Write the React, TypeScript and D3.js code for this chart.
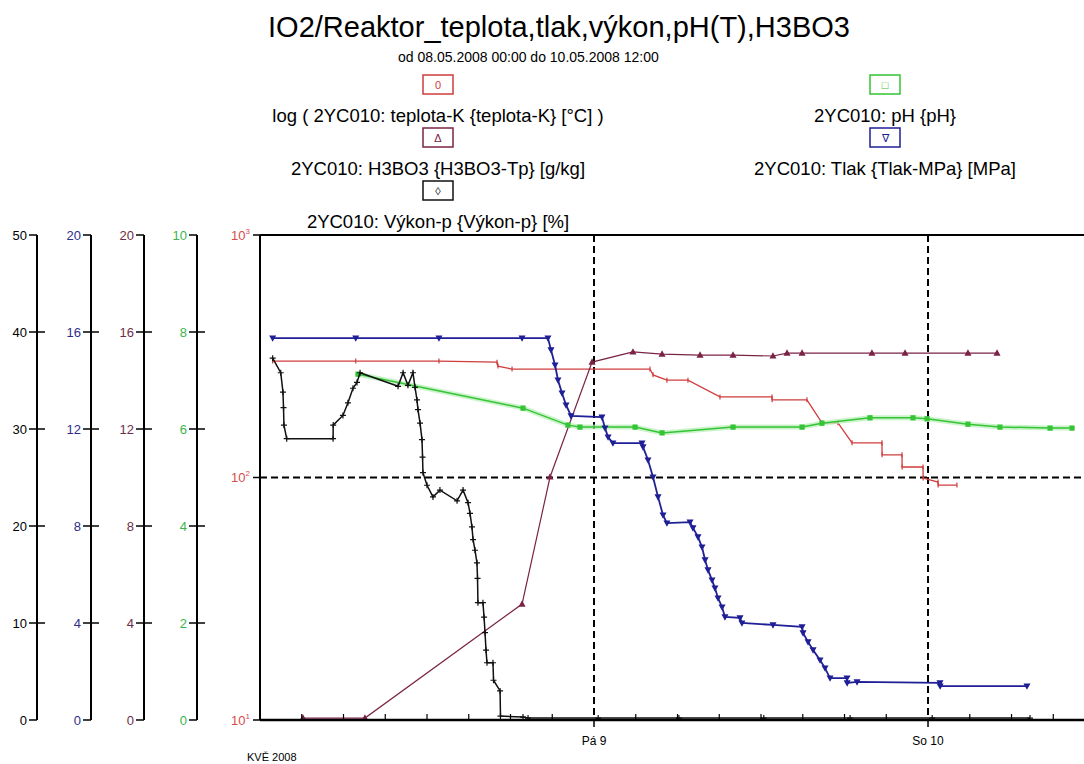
import React from "react";
import * as d3 from "d3";

// time axis in hours since 08.05.2008 00:00 (range to 10.05.2008 12:00 = 60 h)
const teplota: [number, number][] = [
  [0.91, 302], [6.88, 302], [12.86, 302], [17.03, 299], [17.1, 288], [18.11, 280],
  [28.02, 280], [28.24, 265], [29.24, 252], [30.75, 252], [33.05, 215], [36.79, 215],
  [36.8, 209], [39.3, 209], [40.38, 168], [41.53, 168], [42.54, 139], [44.69, 139],
  [44.7, 124], [46.13, 124], [46.14, 110.5], [47.64, 110.5], [47.65, 99.5], [48.72, 95.8],
  [48.73, 93.1], [50.08, 93.1],
];

const h3bo3: [number, number][] = [
  [3.09, 0.08], [7.54, 0.08], [18.83, 4.78], [20.84, 10.02], [23.86, 14.76], [26.8, 15.18],
  [28.89, 15.09], [31.62, 15.05], [33.99, 15.05], [36.86, 15.01], [37.87, 15.13],
  [38.95, 15.13], [43.97, 15.13], [46.35, 15.13], [50.87, 15.13], [52.96, 15.13],
];

const vykon: [number, number][] = [
  [0.91, 37.3], [1.49, 35.8], [1.65, 33.8], [1.69, 32.2], [1.72, 30.4], [1.92, 29.0],
  [5.25, 29.0], [5.26, 30.4], [5.96, 31.4], [6.32, 32.7], [6.68, 34.2], [6.97, 34.8],
  [7.19, 35.8], [9.92, 34.4], [10.28, 35.8], [10.63, 34.5], [10.99, 35.8], [11.14, 34.3],
  [11.28, 33.0], [11.35, 32.0], [11.5, 30.6], [11.64, 28.9], [11.68, 27.1], [11.71, 25.5],
  [12.0, 24.2], [12.43, 23.0], [12.93, 23.7], [14.16, 22.6], [14.59, 23.7], [14.95, 22.4],
  [15.09, 21.3], [15.23, 19.9], [15.31, 18.6], [15.45, 17.5], [15.59, 16.2], [15.63, 14.6],
  [15.66, 12.1], [16.02, 12.1], [16.1, 10.6], [16.17, 9.0], [16.24, 7.2], [16.31, 5.9],
  [16.74, 5.9], [16.78, 4.1], [17.25, 3.0], [17.28, 0.4], [18.9, 0.3], [19.26, 0.2],
  [24.3, 0.2], [30.1, 0.2], [36.2, 0.2], [42.4, 0.2], [48.3, 0.2], [55.33, 0.2],
];

const ph: [number, number][] = [
  [7.04, 7.13], [18.9, 6.43], [22.13, 6.08], [22.99, 6.04], [26.95, 6.04], [28.89, 5.92],
  [33.99, 6.04], [38.95, 6.04], [40.38, 6.12], [43.83, 6.23], [46.92, 6.23], [47.93, 6.21],
  [50.87, 6.1], [53.17, 6.04], [56.77, 6.02], [58.35, 6.02],
];

const tlak: [number, number][] = [
  [0.91, 15.75], [6.88, 15.75], [12.86, 15.75], [18.83, 15.75], [20.69, 15.75], [20.91, 15.26],
  [21.2, 14.64], [21.41, 14.02], [21.7, 13.48], [21.99, 12.99], [22.35, 12.54], [24.57, 12.49],
  [24.79, 12.04], [25.01, 11.67], [25.36, 11.42], [27.45, 11.42], [27.52, 11.26], [27.88, 10.72],
  [28.24, 10.02], [28.6, 9.2], [28.96, 8.45], [29.24, 8.12], [30.9, 8.16], [31.11, 7.92],
  [31.47, 7.55], [31.76, 7.13], [31.98, 6.6], [32.19, 6.19], [32.48, 5.77], [32.69, 5.44],
  [32.91, 5.03], [33.2, 4.66], [33.41, 4.25], [34.49, 4.21], [34.63, 4.0], [36.86, 3.92],
  [38.95, 3.84], [39.02, 3.59], [39.38, 3.22], [39.74, 2.89], [40.24, 2.47], [40.6, 2.14],
  [40.96, 1.73], [42.18, 1.73], [42.19, 1.53], [42.9, 1.57], [48.86, 1.53], [48.87, 1.4],
  [55.11, 1.4],
];

const vykonTicks = [0, 10, 20, 30, 40, 50];
const tlakTicks = [0, 4, 8, 12, 16, 20];
const h3bo3Ticks = [0, 4, 8, 12, 16, 20];
const phTicks = [0, 2, 4, 6, 8, 10];
const logTicks = [10, 100, 1000];
const logExp = ["1", "2", "3"];
const dayHours = [24, 48];
const dayLabels = ["Pá 9", "So 10"];

const TITLE = "IO2/Reaktor_teplota,tlak,výkon,pH(T),H3BO3";
const SUBTITLE = "od 08.05.2008 00:00 do 10.05.2008 12:00";

const RED = "#d03c3c";
const MAROON = "#7b2346";
const BLUE = "#1f1f96";
const GREEN = "#35c435";
const BLACK = "#111";

const TOP = 235;
const BOTTOM = 720;
const LEFT = 260;
const FONT = "'Liberation Sans', Arial, sans-serif";

const x = d3.scaleLinear().domain([0, 60]).range([LEFT, LEFT + 60 * 13.917]);
const yLog = d3.scaleLog().domain([10, 1000]).range([BOTTOM, TOP]);
const yVykon = d3.scaleLinear().domain([0, 50]).range([BOTTOM, TOP]);
const yTlak = d3.scaleLinear().domain([0, 20]).range([BOTTOM, TOP]);
const yH3bo3 = d3.scaleLinear().domain([0, 20]).range([BOTTOM, TOP]);
const yPh = d3.scaleLinear().domain([0, 10]).range([BOTTOM, TOP]);

function marker(kind: string, px: number, py: number) {
  if (kind === "cross") return `M${px - 3},${py}H${px + 3}M${px},${py - 3}V${py + 3}`;
  if (kind === "down") return `M${px - 2.5},${py - 2}L${px + 2.5},${py - 2}L${px},${py + 2.5}Z`;
  if (kind === "up") return `M${px - 2.5},${py + 2}L${px + 2.5},${py + 2}L${px},${py - 2.5}Z`;
  if (kind === "square") return `M${px - 2},${py - 2}h4v4h-4Z`;
  return `M${px},${py - 2.5}V${py + 2.5}`;
}

function Series({ data, y, color, width, kind, halo }: any) {
  const line = d3.line<[number, number]>().x((d) => x(d[0])).y((d) => y(d[1]));
  const d = line(data) || "";
  return (
    <g>
      {halo && <path d={d} fill="none" stroke={halo} strokeWidth={5} strokeOpacity={0.7} />}
      <path d={d} fill="none" stroke={color} strokeWidth={width} />
      <path
        d={data.map((p: [number, number]) => marker(kind, x(p[0]), y(p[1]))).join("")}
        fill={kind === "cross" || kind === "tick" ? "none" : color}
        stroke={color}
        strokeWidth={1.2}
      />
    </g>
  );
}

function SideAxis({ ax, scale, ticks, color }: any) {
  return (
    <g>
      <line x1={ax} x2={ax} y1={TOP} y2={BOTTOM} stroke="#000" strokeWidth={2} />
      {ticks.map((t: number, i: number) => {
        const ty = scale(t);
        const end = i === 0 || i === ticks.length - 1;
        return (
          <g key={t}>
            <line x1={ax - 8} x2={end ? ax : ax + 8} y1={ty} y2={ty} stroke="#000" strokeWidth={1.5} />
            <text x={ax - 10} y={ty} dy="0.35em" textAnchor="end" fill={color} fontSize={13}>
              {t}
            </text>
          </g>
        );
      })}
    </g>
  );
}

function LegendItem({ cx, top, color, symbol, label }: any) {
  return (
    <g>
      <rect x={cx - 15} y={top} width={30} height={19} fill="#fff" stroke={color} strokeWidth={1.5} />
      <text x={cx} y={top + 14} textAnchor="middle" fontSize={11} fill={color}>
        {symbol}
      </text>
      <text x={cx} y={top + 47} textAnchor="middle" fontSize={18.5} fill="#000">
        {label}
      </text>
    </g>
  );
}

export default function App() {
  const minor = d3.range(3, 60, 3).filter((h) => h % 24 !== 0);
  const right = 1084;
  return (
    <div style={{ position: "absolute", left: 0, top: 0 }}>
      <svg width={1084} height={764} style={{ display: "block", background: "#fff" }} fontFamily={FONT}>
        <text x={559} y={37} textAnchor="middle" fontSize={29}>
          {TITLE}
        </text>
        <text x={398} y={62} fontSize={14}>
          {SUBTITLE}
        </text>

        <LegendItem cx={438} top={75} color={RED} symbol="0" label="log ( 2YC010: teplota-K {teplota-K} [°C] )" />
        <LegendItem cx={438} top={128} color={MAROON} symbol="Δ" label="2YC010: H3BO3 {H3BO3-Tp} [g/kg]" />
        <LegendItem cx={438} top={181} color={BLACK} symbol="◊" label="2YC010: Výkon-p {Výkon-p} [%]" />
        <LegendItem cx={885} top={75} color={GREEN} symbol="□" label="2YC010: pH {pH}" />
        <LegendItem cx={885} top={128} color={BLUE} symbol="∇" label="2YC010: Tlak {Tlak-MPa} [MPa]" />

        <SideAxis ax={37} scale={yVykon} ticks={vykonTicks} color="#000" />
        <SideAxis ax={91} scale={yTlak} ticks={tlakTicks} color="#2e2e8a" />
        <SideAxis ax={144} scale={yH3bo3} ticks={h3bo3Ticks} color="#6e2d48" />
        <SideAxis ax={197} scale={yPh} ticks={phTicks} color="#3cb44a" />

        {/* grid */}
        <g stroke="#000" strokeWidth={2} strokeDasharray="7 4">
          {dayHours.map((h) => (
            <line key={h} x1={x(h)} x2={x(h)} y1={TOP} y2={BOTTOM} />
          ))}
          <line x1={LEFT} x2={right} y1={yLog(100)} y2={yLog(100)} />
        </g>

        {/* frame and log axis */}
        <line x1={LEFT} x2={right} y1={TOP} y2={TOP} stroke="#000" strokeWidth={2} />
        <line x1={LEFT} x2={LEFT} y1={TOP} y2={BOTTOM} stroke="#000" strokeWidth={2} />
        {logTicks.map((t, i) => (
          <g key={t}>
            <line x1={LEFT - 7} x2={LEFT} y1={yLog(t)} y2={yLog(t)} stroke="#000" strokeWidth={1.5} />
            <text x={250} y={yLog(t)} dy="0.35em" textAnchor="end" fill="#d94a4a" fontSize={13}>
              10
              <tspan fontSize={8} dy="-6">
                {logExp[i]}
              </tspan>
            </text>
          </g>
        ))}

        <Series data={teplota} y={yLog} color={RED} width={1.3} kind="tick" />
        <Series data={h3bo3} y={yH3bo3} color={MAROON} width={1.2} kind="up" />
        <Series data={ph} y={yPh} color={GREEN} width={1.5} kind="square" halo="#b4eeb4" />
        <Series data={tlak} y={yTlak} color={BLUE} width={1.8} kind="down" />
        <Series data={vykon} y={yVykon} color={BLACK} width={1.5} kind="cross" />

        {/* time axis */}
        <line x1={LEFT} x2={right} y1={BOTTOM} y2={BOTTOM} stroke="#000" strokeWidth={2.5} />
        {minor.map((h) => (
          <line key={h} x1={x(h)} x2={x(h)} y1={BOTTOM} y2={BOTTOM - 6} stroke="#000" strokeWidth={1.2} />
        ))}
        {dayHours.map((h, i) => (
          <g key={h}>
            <line x1={x(h)} x2={x(h)} y1={BOTTOM} y2={BOTTOM + 7} stroke="#000" strokeWidth={1.5} />
            <text x={x(h)} y={745} textAnchor="middle" fontSize={12}>
              {dayLabels[i]}
            </text>
          </g>
        ))}
        <text x={247} y={761} fontSize={11}>
          KVĚ 2008
        </text>
      </svg>
    </div>
  );
}
